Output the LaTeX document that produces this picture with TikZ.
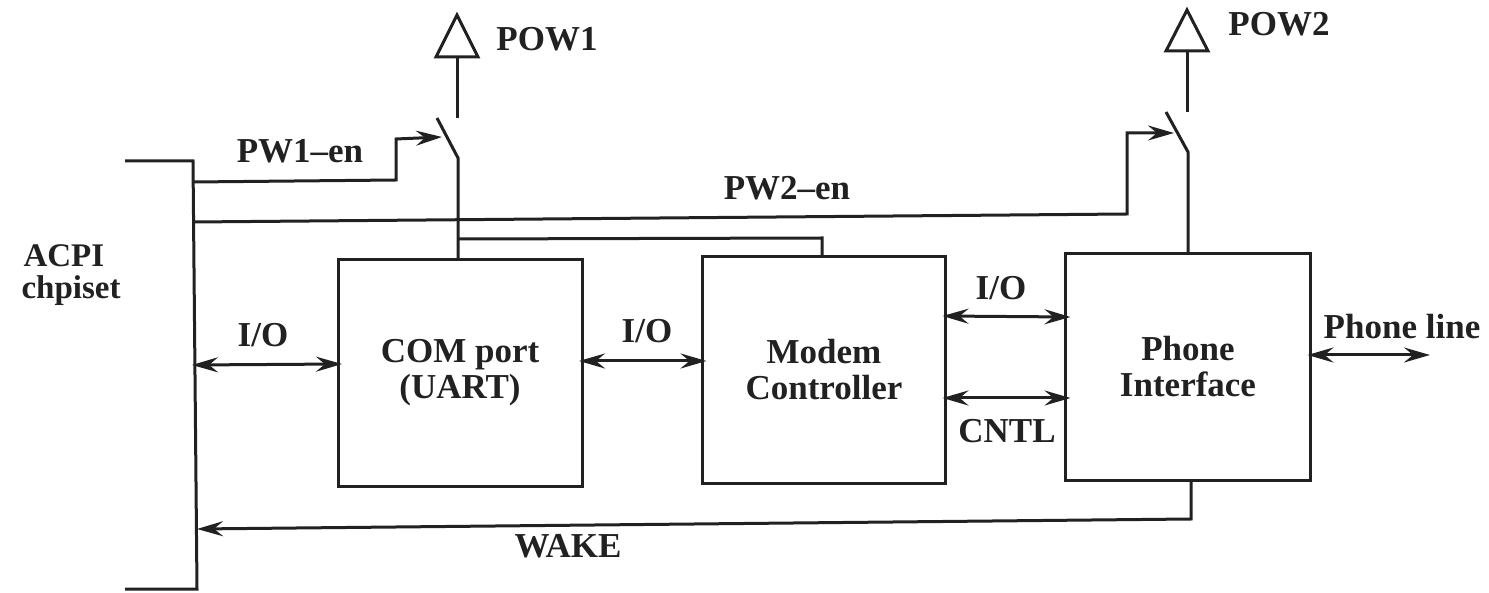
\documentclass[tikz,border=0pt]{standalone}
\usepackage{fontspec}
\setmainfont{Liberation Serif}
\usetikzlibrary{arrows.meta}
\definecolor{ink}{gray}{0.13}
\tikzset{
 blk/.style={draw=ink,line width=3pt,inner sep=0pt,outer sep=0pt,align=center,text=ink,font=\fontsize{35}{36}\selectfont\bfseries},
 wire/.style={draw=ink,line width=3pt},
 dbl/.style={wire,{Stealth[length=26pt,width=15pt,inset=9pt]}-{Stealth[length=26pt,width=15pt,inset=9pt]}},
 sgl/.style={wire,-{Stealth[length=26pt,width=15pt,inset=9pt]}},
 lab/.style={inner sep=0pt,text=ink,align=center,font=\fontsize{35}{36}\selectfont\bfseries},
}
\begin{document}
\begin{tikzpicture}[x=1pt,y=-1pt]
\useasboundingbox (0,0) rectangle (1489,593);
\node[blk,minimum width=244pt,minimum height=226pt] (com) at (460,373) {COM port\\(UART)};
\node[blk,minimum width=243pt,minimum height=226pt] (mod) at (824,370) {Modem\\Controller};
\node[blk,minimum width=245pt,minimum height=226pt] (phi) at (1188,367) {Phone\\Interface};
% ACPI bus
\coordinate (bt) at (125,161);
\coordinate (bb) at (125,589);
\draw[wire] (bt) -- (193,161) -- (197,589) -- (bb);
\node[lab,align=left,font=\fontsize{33}{32}\selectfont\bfseries] (acpi) at (71,275) {\hspace*{2pt}ACPI\\chpiset};
% I/O links
\coordinate (b1) at (192,365);
\draw[dbl] (b1) -- ([xshift=4pt]com.west |- 0,364);
\node[lab] (l1) at (263,335) {I/O};
\draw[dbl] ([xshift=-3pt]com.east |- 0,361) -- ([xshift=4pt]mod.west |- 0,361);
\node[lab] (l2) at (647,331) {I/O};
\draw[dbl] ([xshift=-3pt]mod.east |- 0,316) -- ([xshift=5pt]phi.west |- 0,317);
\node[lab] (l3) at (1001,288) {I/O};
\draw[dbl] ([xshift=-3pt]mod.east |- 0,398) -- ([xshift=5pt]phi.west |- 0,398);
\node[lab] (l4) at (1007,431) {CNTL};
% phone line
\coordinate (pl) at (1430,355);
\draw[dbl] ([xshift=-3pt]phi.east |- 0,355) -- (pl);
\node[lab] (l5) at (1402,327) {Phone line};
% wake
\coordinate (w1) at (1191,519);
\coordinate (w2) at (197,529);
\draw[sgl] (phi.south -| w1) -- (w1) -- (w2);
\node[lab] (l6) at (568,546) {WAKE};
% switch 1
\coordinate (s1a) at (437,118);
\coordinate (s1b) at (458,158);
\coordinate (s1t) at (457,118);
\coordinate (a1) at (457,57);
\draw[wire] (s1a) -- (s1b) -- (458,260);
\draw[wire] (s1t) -- (a1);
\draw[wire,line join=miter] (a1) ++(-21,0) -- ++(42,0) -- ++(-21,-42) -- cycle;
\node[lab] (p1) at (547,39) {POW1};
\coordinate (e1) at (193,182);
\draw[sgl] (e1) -- (396,180) -- (396,139) -- (442,137);
\node[lab] (l7) at (300,151) {PW1--en};
% link to modem
\draw[wire] (458,239) -- (822,238) -- (822,257);
% switch 2
\coordinate (s2a) at (1166,112);
\coordinate (s2b) at (1188,152);
\coordinate (a2) at (1187,51);
\draw[wire] (s2a) -- (s2b) -- (1188,254);
\draw[wire] (1187,112) -- (a2);
\draw[wire,line join=miter] (a2) ++(-21,0) -- ++(42,0) -- ++(-21,-41) -- cycle;
\node[lab] (p2) at (1279,24) {POW2};
\coordinate (e2) at (193,222);
\draw[sgl] (e2) -- (1127,214) -- (1127,133) -- (1174,133);
\node[lab] (l8) at (787,188) {PW2--en};
\end{tikzpicture}
\end{document}
